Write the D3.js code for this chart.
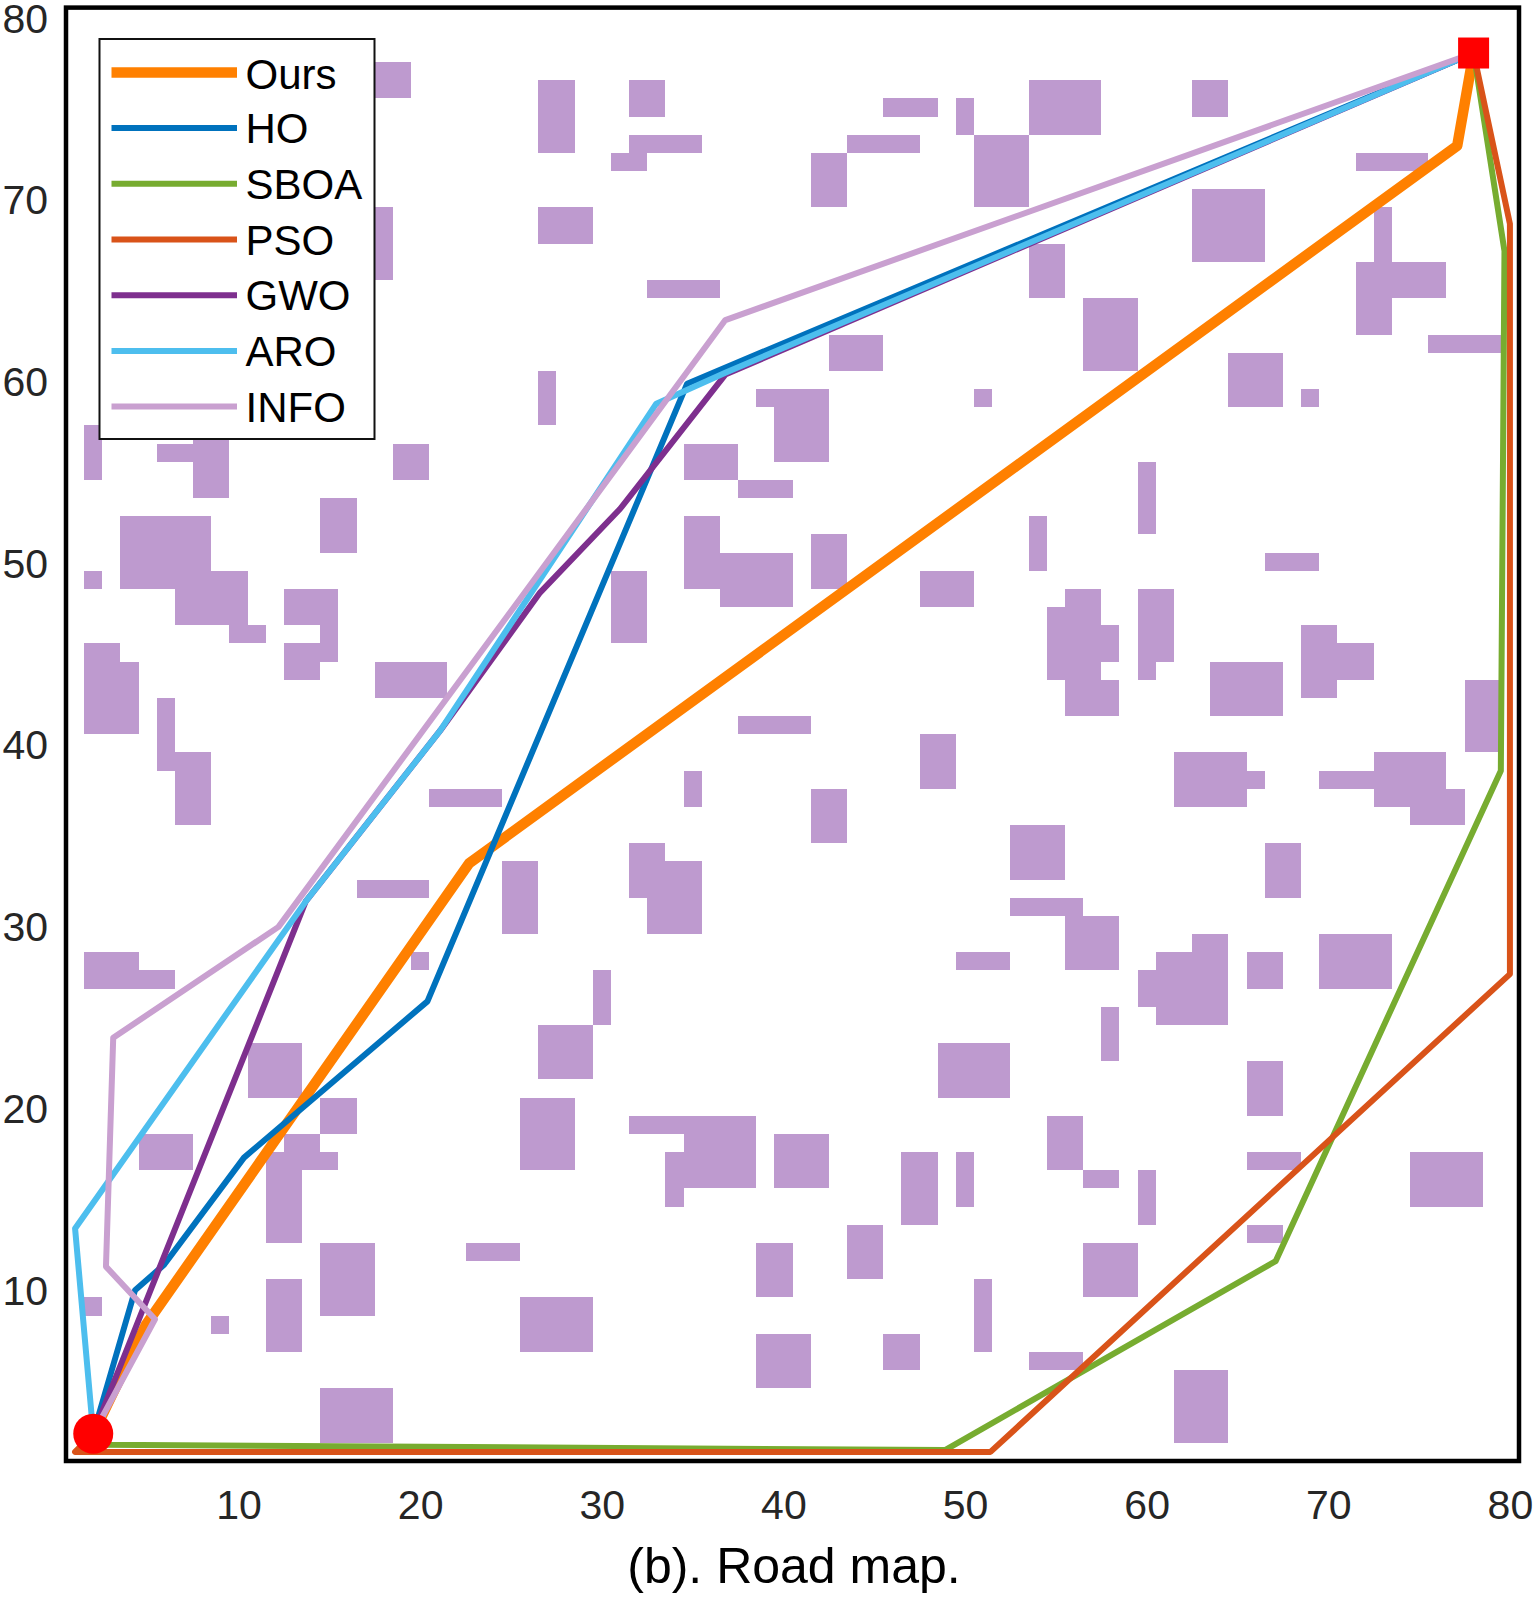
<!DOCTYPE html>
<html>
<head>
<meta charset="utf-8">
<title>Road map</title>
<script src="https://cdn.jsdelivr.net/npm/d3@7/dist/d3.min.js"></script>
<style>
html, body { margin: 0; padding: 0; background: #fff; }
svg { display: block; font-family: "Liberation Sans", Arial, sans-serif; }
</style>
</head>
<body>
<div id="chart"></div>
<script>
// path vertices, grid units
var ticks = [10, 20, 30, 40, 50, 60, 70, 80];
var startPoint = [2, 2];
var endPoint = [78, 78];

var oursPath = [[2, 2], [4.9, 8], [22.7, 33.4], [77.1, 72.9], [78, 78]];
var hoPath = [[2, 2], [4.3, 9.9], [5.9, 11.3], [10.3, 17.2], [20.4, 25.8], [34.7, 59.8], [78, 78]];
var sboaPath = [[2, 2], [2.5, 1.4], [48.9, 1.1], [67.1, 11.5], [79.5, 38.5], [79.7, 67.1], [78, 78]];
var psoPath = [[2, 2], [1, 1], [51.4, 1], [80, 27.3], [80, 68.6], [78, 78]];
var gwoPath = [[2, 2], [13.7, 31.3], [21.1, 40.7], [26.6, 48.3], [31, 52.9], [36.8, 60.3], [78, 78]];
var aroPath = [[2, 2], [1, 13.3], [13.7, 31.3], [21.1, 40.7], [33, 58.7], [36.8, 60.4], [78, 78]];
var infoPath = [[2, 2], [5.4, 8.3], [2.7, 11.2], [3.1, 23.8], [12.2, 29.9], [36.8, 63.3], [78, 78]];

var seriesNames = ["Ours", "HO", "SBOA", "PSO", "GWO", "ARO", "INFO"];
var seriesPaths = [oursPath, hoPath, sboaPath, psoPath, gwoPath, aroPath, infoPath];
var seriesColors = ["#FF8000", "#0072BD", "#77AC30", "#D95319", "#7E2F8E", "#4DBEEE", "#C9A0D0"];

// obstacle blocks: first column, last column, first row, last row
var obstacles = [
	[18,19,76,77],[18,18,66,69],[27,28,73,76],[32,33,75,76],[32,35,73,73],[31,32,72,72],
	[27,29,68,69],[33,36,65,65],[27,27,58,60],[2,2,55,57],[6,7,56,56],[8,9,54,57],
	[19,20,55,56],[15,16,51,53],[4,8,49,52],[2,2,49,49],[7,10,47,49],[10,11,46,46],
	[13,15,47,48],[15,15,45,46],[13,14,44,45],[2,3,41,45],[4,4,41,44],[6,6,39,42],
	[7,8,36,39],[18,21,43,44],[21,24,37,37],[35,37,55,56],[38,40,54,54],[35,36,49,52],
	[37,40,48,50],[31,32,46,49],[35,35,37,38],[38,41,41,41],[39,42,59,59],[40,42,56,58],
	[42,43,70,72],[44,47,73,73],[46,48,75,75],[50,50,74,75],[51,53,70,73],[54,57,74,76],
	[63,64,75,76],[72,75,72,72],[63,66,67,70],[54,55,65,67],[57,59,61,64],[43,45,61,62],
	[73,73,67,69],[72,76,65,66],[72,73,63,64],[76,79,62,62],[65,67,59,61],[69,69,59,59],
	[51,51,59,59],[60,60,52,55],[54,54,50,52],[67,69,50,50],[42,43,49,51],[48,50,48,49],
	[56,57,48,48],[55,57,44,47],[58,58,45,46],[56,58,42,43],[60,61,45,48],[60,60,44,44],
	[64,67,42,44],[69,70,43,46],[71,72,44,45],[78,79,40,43],[48,49,38,40],[42,43,35,37],
	[62,65,37,39],[66,66,38,38],[70,72,38,38],[73,76,37,39],[77,77,36,37],[75,77,36,36],
	[53,55,33,35],[53,56,31,31],[56,58,28,30],[50,52,28,28],[67,68,32,34],[63,64,29,29],
	[61,64,25,28],[60,60,26,27],[66,67,27,28],[70,73,27,29],[58,58,23,25],[49,52,21,23],
	[66,67,20,22],[55,56,17,19],[57,58,16,16],[66,68,17,17],[75,78,15,17],[40,42,16,18],
	[47,48,14,17],[50,50,15,17],[60,60,14,16],[44,45,11,13],[66,67,13,13],[39,40,10,12],
	[57,59,10,12],[51,51,7,10],[39,41,5,7],[46,47,6,7],[54,56,6,6],[62,64,2,5],
	[32,33,32,34],[33,35,30,33],[17,20,32,32],[25,26,30,33],[2,4,27,28],[5,6,27,27],
	[20,20,28,28],[30,30,25,27],[27,29,22,24],[11,13,21,23],[15,16,19,20],[26,28,17,20],
	[32,38,19,19],[35,38,16,18],[34,34,15,17],[5,7,17,18],[13,14,18,18],[12,15,17,17],
	[12,13,13,16],[15,17,9,12],[23,25,12,12],[2,2,9,9],[12,13,7,10],[9,9,8,8],
	[26,29,7,9],[15,18,2,4]
];

var width = 1534;
var height = 1597;
var plot = {left: 66, right: 1519, top: 7.6, bottom: 1461};

var svg = d3.select("#chart").append("svg")
	.attr("width", width)
	.attr("height", height);

var x = d3.scaleLinear().domain([0.5, 80.5]).range([plot.left, plot.right]);
var y = d3.scaleLinear().domain([0.5, 80.5]).range([plot.bottom, plot.top]);

// obstacle cells
svg.append("g").selectAll("rect")
	.data(obstacles)
	.join("rect")
	.attr("x", d => x(d[0] - 0.5))
	.attr("width", d => x(d[1] + 0.5) - x(d[0] - 0.5))
	.attr("y", d => y(d[3] + 0.5))
	.attr("height", d => y(d[2] - 0.5) - y(d[3] + 0.5))
	.attr("fill", "#BE9ACF")
	.attr("shape-rendering", "crispEdges");

// paths
var line = d3.line().x(d => x(d[0])).y(d => y(d[1]));

svg.append("g").selectAll("path")
	.data(seriesPaths)
	.join("path")
	.attr("d", line)
	.attr("fill", "none")
	.attr("stroke", (d, i) => seriesColors[i])
	.attr("stroke-width", (d, i) => i === 0 ? 10.5 : 6)
	.attr("stroke-linejoin", "round");

// start and end markers
svg.append("circle")
	.attr("cx", x(startPoint[0]))
	.attr("cy", y(startPoint[1]))
	.attr("r", 20)
	.attr("fill", "#FF0000");

svg.append("rect")
	.attr("x", x(endPoint[0]) - 15.5)
	.attr("y", y(endPoint[1]) - 15.5)
	.attr("width", 31)
	.attr("height", 31)
	.attr("fill", "#FF0000");

// axes, no tick marks
var xAxis = svg.append("g")
	.attr("transform", "translate(0," + plot.bottom + ")")
	.call(d3.axisBottom(x).tickValues(ticks).tickSize(0).tickPadding(29));
var yAxis = svg.append("g")
	.attr("transform", "translate(" + plot.left + ",0)")
	.call(d3.axisLeft(y).tickValues(ticks).tickSize(0).tickPadding(18));

[xAxis, yAxis].forEach(axis => {
	axis.select(".domain").remove();
	axis.attr("font-family", null).attr("font-size", null);
	axis.selectAll("text")
		.attr("font-size", 41)
		.attr("fill", "#262626");
});
yAxis.selectAll("text").attr("dy", "0.38em");

// plot frame
svg.append("rect")
	.attr("x", plot.left)
	.attr("y", plot.top)
	.attr("width", plot.right - plot.left)
	.attr("height", plot.bottom - plot.top)
	.attr("fill", "none")
	.attr("stroke", "#000")
	.attr("stroke-width", 4.5);

svg.append("text")
	.attr("x", 794)
	.attr("y", 1583)
	.attr("text-anchor", "middle")
	.attr("font-size", 50)
	.attr("fill", "#000")
	.text("(b). Road map.");

// legend
var legend = svg.append("g");
legend.append("rect")
	.attr("x", 99.5)
	.attr("y", 39)
	.attr("width", 275)
	.attr("height", 400)
	.attr("fill", "#fff")
	.attr("stroke", "#111")
	.attr("stroke-width", 2);

var legendRow = d3.scalePoint().domain(seriesNames).range([72.4, 406.6]);

seriesNames.forEach((name, i) => {
	legend.append("line")
		.attr("x1", 111.5)
		.attr("x2", 237)
		.attr("y1", legendRow(name))
		.attr("y2", legendRow(name))
		.attr("stroke", seriesColors[i])
		.attr("stroke-width", i === 0 ? 10.5 : 6);
	legend.append("text")
		.attr("x", 245.5)
		.attr("y", legendRow(name) + (i === 0 ? 17 : 15))
		.attr("font-size", 42)
		.attr("fill", "#000")
		.text(name);
});
</script>
</body>
</html>
